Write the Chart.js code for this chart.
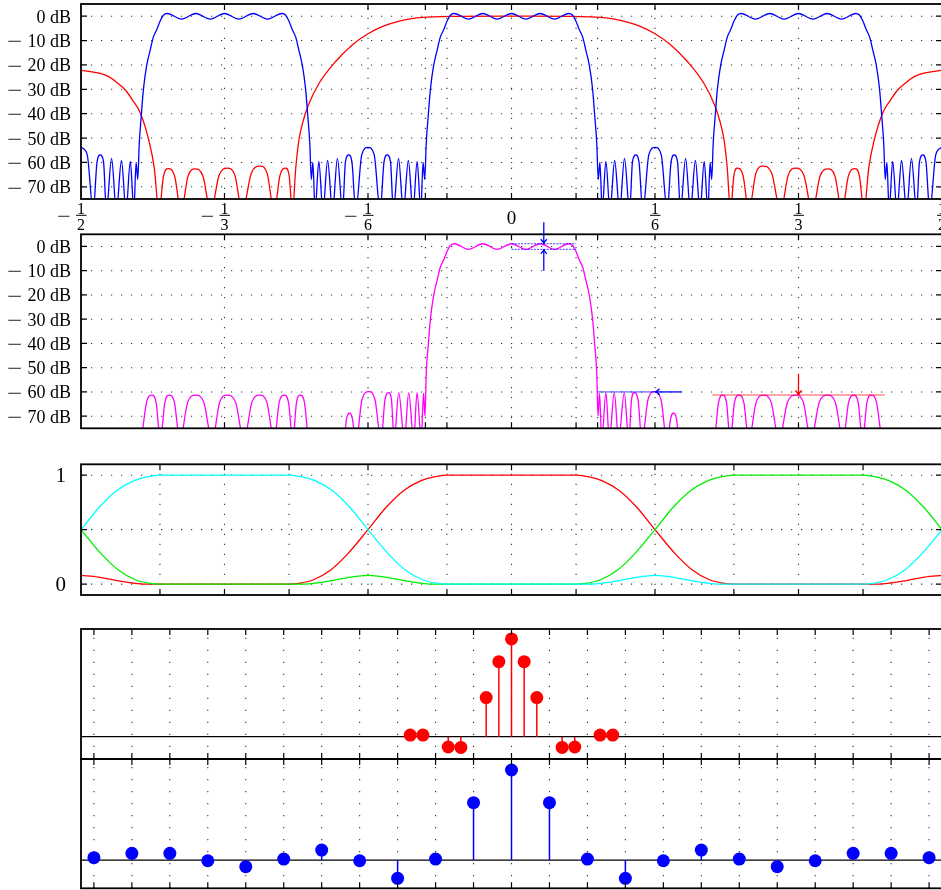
<!DOCTYPE html>
<html><head><meta charset="utf-8">
<script src="https://cdn.jsdelivr.net/npm/chart.js@4.4.1/dist/chart.umd.min.js"></script>
<style>
html,body{margin:0;padding:0;background:#fff;overflow:hidden;}
body{width:941px;height:890px;position:relative;}
canvas{position:absolute;left:0;}
</style></head><body>
<canvas id="c1" width="942" height="236" style="top:0px"></canvas>
<canvas id="c2" width="942" height="222" style="top:214px"></canvas>
<canvas id="c3" width="942" height="150" style="top:455px"></canvas>
<canvas id="c4" width="942" height="145" style="top:620px"></canvas>
<canvas id="c5" width="942" height="140" style="top:752px"></canvas>
<script>
// ---------------- data ----------------
const freqGridTicks = [-1/3, -1/6, -0.1, -0.075, 0, 0.075, 0.1, 1/6, 1/3];
const fracTickValues = [-1/2, -1/3, -1/6, 0, 1/6, 1/3, 1/2];
const fracTickLabels = ['\u22121/2', '\u22121/3', '\u22121/6', '0', '1/6', '1/3', '1/2'];
const dbTicks = [-70, -60, -50, -40, -30, -20, -10, 0];
const dbTickLabels = ['\u221270 dB', '\u221260 dB', '\u221250 dB', '\u221240 dB', '\u221230 dB', '\u221220 dB', '\u221210 dB', '0 dB'];
const bankTicks = [-0.4083, -1/3, -0.2583, -1/6, -0.075, 0, 0.075, 1/6, 0.2583, 1/3, 0.4083];
const gainTicks = [0, 0.5, 1];
const gainTickLabels = ['0', '', '1'];
const tapTicks = [-11,-10,-9,-8,-7,-6,-5,-4,-3,-2,-1,0,1,2,3,4,5,6,7,8,9,10,11];

// interpolated (zero-stuffed) filter response, dB
const blueResponseDb = [
[-0.5,-53.8],[-0.4928,-56.8],[-0.4858,-80],[-0.4814,-59.9],[-0.4777,-56.9],[-0.4738,-59.9],[-0.4705,-80],[-0.4645,-58.3],[-0.4589,-80],[-0.4530,-59.2],[-0.4477,-80],[-0.4427,-59.6],[-0.4386,-80],[-0.4360,-60],[-0.4341,-67],
[-0.4323,-52],[-0.4298,-40],[-0.4275,-30],[-0.4236,-20],[-0.4197,-14],[-0.4159,-8.5],[-0.4120,-5.5],[-0.4081,-2],[-0.4043,0.4],[-0.3998,1.1],[-0.3833,-1.2],[-0.3667,1.1],[-0.3500,-1.2],[-0.3333,1.1],[-0.3167,-1.2],[-0.3000,1.1],[-0.2833,-1.2],[-0.2668,1.1],[-0.2623,0.4],[-0.2585,-2],[-0.2546,-5.5],[-0.2507,-8.5],[-0.2469,-14],[-0.2430,-20],[-0.2391,-30],[-0.2368,-40],[-0.2343,-52],[-0.2325,-67],
[-0.2307,-60],[-0.2281,-80],[-0.2238,-59.6],[-0.2190,-80],[-0.2136,-59.2],[-0.2078,-80],[-0.2022,-58.3],[-0.1962,-80],[-0.1929,-59.9],[-0.1890,-56.9],[-0.1853,-59.9],[-0.1809,-80],[-0.1739,-56.8],[-0.1667,-53.8],[-0.1595,-56.8],[-0.1525,-80],[-0.1481,-59.9],[-0.1444,-56.9],[-0.1405,-59.9],[-0.1372,-80],[-0.1312,-58.3],[-0.1256,-80],[-0.1198,-59.2],[-0.1144,-80],[-0.1096,-59.6],[-0.1053,-80],[-0.1027,-60],[-0.1008,-67],
[-0.0990,-52],[-0.0965,-40],[-0.0942,-30],[-0.0903,-20],[-0.0864,-14],[-0.0826,-8.5],[-0.0787,-5.5],[-0.0748,-2],[-0.0710,0.4],[-0.0665,1.1],[-0.0500,-1.2],[-0.0333,1.1],[-0.0167,-1.2],[0,1.1],[0.0167,-1.2],[0.0333,1.1],[0.0500,-1.2],[0.0665,1.1],[0.0710,0.4],[0.0748,-2],[0.0787,-5.5],[0.0826,-8.5],[0.0864,-14],[0.0903,-20],[0.0942,-30],[0.0965,-40],[0.0990,-52],[0.1008,-67],
[0.1027,-60],[0.1053,-80],[0.1096,-59.6],[0.1144,-80],[0.1198,-59.2],[0.1256,-80],[0.1312,-58.3],[0.1372,-80],[0.1405,-59.9],[0.1444,-56.9],[0.1481,-59.9],[0.1525,-80],[0.1595,-56.8],[0.1667,-53.8],[0.1739,-56.8],[0.1809,-80],[0.1853,-59.9],[0.1890,-56.9],[0.1929,-59.9],[0.1962,-80],[0.2022,-58.3],[0.2078,-80],[0.2136,-59.2],[0.2190,-80],[0.2238,-59.6],[0.2281,-80],[0.2307,-60],[0.2325,-67],
[0.2343,-52],[0.2368,-40],[0.2391,-30],[0.2430,-20],[0.2469,-14],[0.2507,-8.5],[0.2546,-5.5],[0.2585,-2],[0.2623,0.4],[0.2668,1.1],[0.2833,-1.2],[0.3000,1.1],[0.3167,-1.2],[0.3333,1.1],[0.3500,-1.2],[0.3667,1.1],[0.3833,-1.2],[0.3998,1.1],[0.4043,0.4],[0.4081,-2],[0.4120,-5.5],[0.4159,-8.5],[0.4197,-14],[0.4236,-20],[0.4275,-30],[0.4298,-40],[0.4323,-52],[0.4341,-67],
[0.4360,-60],[0.4386,-80],[0.4427,-59.6],[0.4477,-80],[0.4530,-59.2],[0.4589,-80],[0.4645,-58.3],[0.4705,-80],[0.4738,-59.9],[0.4777,-56.9],[0.4814,-59.9],[0.4858,-80],[0.4928,-56.8],[0.5,-53.8]
];

// image-rejection filter response, dB
const redResponseDb = [
[-0.5,-22.2],[-0.48,-23.3],[-0.4678,-24.8],[-0.458,-27.3],[-0.4485,-30.3],[-0.44,-34.5],[-0.431,-39.8],[-0.4213,-50.8],[-0.4150,-62],[-0.4094,-80],[-0.4041,-65.5],[-0.3988,-62.5],[-0.3913,-65.5],[-0.3838,-80],[-0.3757,-65.6],[-0.3675,-62.6],[-0.3584,-65.6],[-0.3493,-80],[-0.3396,-65.3],[-0.3299,-62.3],[-0.3213,-65.3],[-0.3126,-80],[-0.3023,-64.5],[-0.2919,-61.5],[-0.2838,-64.5],[-0.2756,-80],[-0.2689,-65.3],[-0.2622,-62.3],[-0.2583,-65.3],[-0.2544,-80],[-0.2505,-62],[-0.2469,-50.8],[-0.242,-43],[-0.236,-36.5],[-0.2236,-27.6],[-0.204,-18.5],[-0.185,-11.8],[-0.1667,-7.2],[-0.148,-4.0],[-0.128,-1.8],[-0.11,-0.7],[-0.09,-0.25],[-0.07,-0.08],
[0,0],
[0.07,-0.08],[0.09,-0.25],[0.11,-0.7],[0.128,-1.8],[0.148,-4.0],[0.1667,-7.2],[0.185,-11.8],[0.204,-18.5],[0.2236,-27.6],[0.236,-36.5],[0.242,-43],[0.2469,-50.8],[0.2505,-62],[0.2544,-80],[0.2583,-65.3],[0.2622,-62.3],[0.2689,-65.3],[0.2756,-80],[0.2838,-64.5],[0.2919,-61.5],[0.3023,-64.5],[0.3126,-80],[0.3213,-65.3],[0.3299,-62.3],[0.3396,-65.3],[0.3493,-80],[0.3584,-65.6],[0.3675,-62.6],[0.3757,-65.6],[0.3838,-80],[0.3913,-65.5],[0.3988,-62.5],[0.4041,-65.5],[0.4094,-80],[0.4150,-62],[0.4213,-50.8],[0.431,-39.8],[0.44,-34.5],[0.4485,-30.3],[0.458,-27.3],[0.4678,-24.8],[0.48,-23.3],[0.5,-22.2]
];

// cascade response, dB
const cascadeResponseDb = [
[-0.5,-120],[-0.44,-100],[-0.4300,-80],[-0.4239,-64.3],[-0.4178,-61.3],[-0.4128,-64.3],[-0.4078,-80],[-0.4026,-64.3],[-0.3975,-61.3],[-0.3915,-64.3],[-0.3852,-80],[-0.3761,-64.3],[-0.3670,-61.3],[-0.3574,-64.3],[-0.3477,-80],[-0.3390,-64.3],[-0.3303,-61.3],[-0.3205,-64.3],[-0.3107,-80],[-0.3016,-64.3],[-0.2926,-61.3],[-0.2841,-64.3],[-0.2756,-80],[-0.2698,-64.3],[-0.2640,-61.3],[-0.2590,-64.3],[-0.2540,-80],[-0.2497,-64.3],[-0.2453,-61.3],[-0.2405,-64.3],[-0.2357,-80],[-0.2200,-90],[-0.2066,-85],[-0.2016,-75.5],[-0.1957,-85],[-0.1918,-71.5],[-0.1880,-68.7],[-0.1845,-71.5],[-0.1810,-82],[-0.1735,-62.9],[-0.1659,-59.9],[-0.1587,-62.9],[-0.1514,-80],[-0.1470,-63.3],[-0.1426,-60.3],[-0.1394,-63.3],[-0.1362,-80],[-0.1310,-60.3],[-0.1244,-80],[-0.1194,-60.3],[-0.1136,-80],[-0.1097,-60.3],[-0.1048,-80],[-0.1022,-60.5],[-0.1005,-70],
[-0.0990,-52],[-0.0965,-40],[-0.0942,-30],[-0.0903,-20],[-0.0864,-14],[-0.0826,-8.5],[-0.0787,-5.5],[-0.0748,-2],[-0.0710,0.4],[-0.0665,1.1],[-0.0500,-1.2],[-0.0333,1.1],[-0.0167,-1.2],[0,1.1],[0.0167,-1.2],[0.0333,1.1],[0.0500,-1.2],[0.0665,1.1],[0.0710,0.4],[0.0748,-2],[0.0787,-5.5],[0.0826,-8.5],[0.0864,-14],[0.0903,-20],[0.0942,-30],[0.0965,-40],[0.0990,-52],
[0.1005,-70],[0.1022,-60.5],[0.1048,-80],[0.1097,-60.3],[0.1136,-80],[0.1194,-60.3],[0.1244,-80],[0.1310,-60.3],[0.1362,-80],[0.1394,-63.3],[0.1426,-60.3],[0.1470,-63.3],[0.1514,-80],[0.1587,-62.9],[0.1659,-59.9],[0.1735,-62.9],[0.1810,-82],[0.1845,-71.5],[0.1880,-68.7],[0.1918,-71.5],[0.1957,-85],[0.2016,-75.5],[0.2066,-85],[0.2200,-90],[0.2357,-80],[0.2405,-64.3],[0.2453,-61.3],[0.2497,-64.3],[0.2540,-80],[0.2590,-64.3],[0.2640,-61.3],[0.2698,-64.3],[0.2756,-80],[0.2841,-64.3],[0.2926,-61.3],[0.3016,-64.3],[0.3107,-80],[0.3205,-64.3],[0.3303,-61.3],[0.3390,-64.3],[0.3477,-80],[0.3574,-64.3],[0.3670,-61.3],[0.3761,-64.3],[0.3852,-80],[0.3915,-64.3],[0.3975,-61.3],[0.4026,-64.3],[0.4078,-80],[0.4128,-64.3],[0.4178,-61.3],[0.4239,-64.3],[0.4300,-80],[0.44,-100],[0.5,-120]
];

// filter-bank channel gains (linear)
const cyanGain = [
[-0.5,0.5],[-0.4783,0.71],[-0.4583,0.86],[-0.4383,0.95],[-0.4233,0.985],[-0.4083,1],[-0.2583,1],[-0.2433,0.985],[-0.2283,0.95],[-0.2083,0.86],[-0.1883,0.71],[-0.1667,0.5],[-0.1433,0.28],[-0.1233,0.13],[-0.1033,0.04],[-0.0883,0.01],[-0.0733,0],[0.0917,0],[0.1067,0.01],[0.1267,0.035],[0.1467,0.065],[0.1667,0.08],[0.1867,0.065],[0.2067,0.035],[0.2267,0.01],[0.2417,0],[0.4067,0],[0.4217,0.01],[0.4367,0.04],[0.4567,0.13],[0.4767,0.28],[0.5,0.5]
];
const redGain = [
[-0.5,0.08],[-0.48,0.065],[-0.46,0.035],[-0.44,0.01],[-0.425,0],[-0.26,0],[-0.245,0.01],[-0.23,0.04],[-0.21,0.13],[-0.19,0.28],[-0.1667,0.5],[-0.145,0.71],[-0.125,0.86],[-0.105,0.95],[-0.09,0.985],[-0.075,1],[0.075,1],[0.09,0.985],[0.105,0.95],[0.125,0.86],[0.145,0.71],[0.1667,0.5],[0.19,0.28],[0.21,0.13],[0.23,0.04],[0.245,0.01],[0.26,0],[0.425,0],[0.44,0.01],[0.46,0.035],[0.48,0.065],[0.5,0.08]
];
const greenGain = [
[-0.5,0.5],[-0.4767,0.28],[-0.4567,0.13],[-0.4367,0.04],[-0.4217,0.01],[-0.4067,0],[-0.2417,0],[-0.2267,0.01],[-0.2067,0.035],[-0.1867,0.065],[-0.1667,0.08],[-0.1467,0.065],[-0.1267,0.035],[-0.1067,0.01],[-0.0917,0],[0.0733,0],[0.0883,0.01],[0.1033,0.04],[0.1233,0.13],[0.1433,0.28],[0.1667,0.5],[0.1883,0.71],[0.2083,0.86],[0.2283,0.95],[0.2433,0.985],[0.2583,1],[0.4083,1],[0.4233,0.985],[0.4383,0.95],[0.4583,0.86],[0.4783,0.71],[0.5,0.5]
];

// impulse responses
const redTapIndex = [-8,-7,-5,-4,-2,-1,0,1,2,4,5,7,8];
const redTapValues = [0.017,0.017,-0.105,-0.11,0.40,0.768,1.0,0.768,0.40,-0.11,-0.105,0.017,0.017];
const blueTapIndex = [-11,-10,-9,-8,-7,-6,-5,-4,-3,-2,-1,0,1,2,3,4,5,6,7,8,9,10,11];
const blueTapValues = [0.026,0.074,0.074,-0.008,-0.074,0.011,0.111,-0.008,-0.203,0.011,0.637,1.0,0.637,0.011,-0.203,-0.008,0.111,0.011,-0.074,-0.008,0.074,0.074,0.026];

// annotation levels (cascade panel)
const rippleLevelsDb = [1.1, -1.2];
const passEdge = 0.075, stopEdge = 0.1;
const stopLevelNearDb = -60, stopLevelFarDb = -61.3;

// ---------------- helpers ----------------
const SERIF = '"Liberation Serif", "DejaVu Serif", serif';
const pts = arr => arr.map(p => ({x: p[0], y: p[1]}));

// minus sign drawn as text, widened horizontally to the reference's math minus
function drawMinus(ctx, rightX, cy, width, size) {
  ctx.save();
  ctx.font = size + 'px ' + SERIF; ctx.textAlign = 'left'; ctx.textBaseline = 'alphabetic';
  const m = ctx.measureText('\u2212');
  const gw = m.actualBoundingBoxLeft + m.actualBoundingBoxRight;
  const barMid = (m.actualBoundingBoxAscent - m.actualBoundingBoxDescent) / 2;
  const sx = width / gw;
  const left = rightX - width;
  ctx.translate(left + sx * m.actualBoundingBoxLeft, cy + barMid);
  ctx.scale(sx, 1);
  ctx.fillText('\u2212', 0, 0);
  ctx.restore();
}
function drawNumLabel(ctx, text, rightX, cy, size) {
  ctx.save();
  ctx.font = size + 'px ' + SERIF; ctx.fillStyle = '#000';
  ctx.textAlign = 'right'; ctx.textBaseline = 'alphabetic';
  const neg = text.startsWith('\u2212'); const rest = neg ? text.slice(1) : text;
  const d = ctx.measureText('0');
  const base = cy + d.actualBoundingBoxAscent / 2;
  ctx.fillText(rest, rightX, base);
  if (neg) {
    const w = ctx.measureText(rest).width;
    drawMinus(ctx, rightX - w - 5.5, cy + 0.8, 15, size);
  }
  ctx.restore();
}

function arrow(ctx, x1, y1, x2, y2, color) {
  ctx.save();
  ctx.strokeStyle = color; ctx.lineWidth = 1.3; ctx.setLineDash([]);
  ctx.beginPath(); ctx.moveTo(x1, y1); ctx.lineTo(x2, y2); ctx.stroke();
  const ang = Math.atan2(y2 - y1, x2 - x1), L = 5.5, s = 0.6;
  ctx.beginPath();
  ctx.moveTo(x2 - L * Math.cos(ang - s), y2 - L * Math.sin(ang - s));
  ctx.quadraticCurveTo(x2 - 1.5 * Math.cos(ang), y2 - 1.5 * Math.sin(ang), x2, y2);
  ctx.quadraticCurveTo(x2 - 1.5 * Math.cos(ang), y2 - 1.5 * Math.sin(ang), x2 - L * Math.cos(ang + s), y2 - L * Math.sin(ang + s));
  ctx.stroke();
  ctx.restore();
}

const framePlugin = {
  id: 'frame',
  beforeDatasetsDraw(chart, args, o) {
    const {ctx, chartArea: a} = chart; const x = chart.scales.x, y = chart.scales.y;
    ctx.save();
    ctx.beginPath(); ctx.rect(a.left, a.top, a.right - a.left, a.bottom - a.top); ctx.clip();
    ctx.strokeStyle = '#333'; ctx.lineWidth = 1.1; ctx.setLineDash(o.dash || [1.2, 8.8]);
    for (const v of (o.xGrid || [])) { const p = x.getPixelForValue(v); ctx.beginPath(); ctx.moveTo(p, a.bottom); ctx.lineTo(p, a.top); ctx.stroke(); }
    for (const v of (o.yGrid || [])) { const p = y.getPixelForValue(v); ctx.beginPath(); ctx.moveTo(a.left, p); ctx.lineTo(a.right, p); ctx.stroke(); }
    ctx.setLineDash([]);
    if (o.zeroLine) { const p = y.getPixelForValue(0); ctx.strokeStyle = '#000'; ctx.lineWidth = 1.2; ctx.beginPath(); ctx.moveTo(a.left, p); ctx.lineTo(a.right, p); ctx.stroke(); }
    ctx.restore();
  },
  afterDatasetsDraw(chart, args, o) {
    const {ctx, chartArea: a} = chart; const x = chart.scales.x, y = chart.scales.y;
    ctx.save();
    ctx.strokeStyle = '#000'; ctx.lineWidth = 1.2; const tl = 6;
    for (const v of (o.xTicks || [])) { const p = x.getPixelForValue(v); ctx.beginPath(); ctx.moveTo(p, a.top); ctx.lineTo(p, a.top + tl); ctx.moveTo(p, a.bottom); ctx.lineTo(p, a.bottom - tl); ctx.stroke(); }
    for (const v of (o.yTicks || [])) { const p = y.getPixelForValue(v); ctx.beginPath(); ctx.moveTo(a.left, p); ctx.lineTo(a.left + tl, p); ctx.moveTo(a.right, p); ctx.lineTo(a.right - tl, p); ctx.stroke(); }
    ctx.lineWidth = 1.8; ctx.strokeRect(a.left, a.top, a.right - a.left, a.bottom - a.top);
    ctx.restore();
    if (o.yLabels) {
      (o.yTicks || []).forEach((v, i) => {
        const lab = o.yLabels[i]; if (!lab) return;
        drawNumLabel(ctx, lab, a.left - (o.labelGap || 10), y.getPixelForValue(v), o.labelSize || 18);
      });
    }
  }
};

const fracPlugin = {
  id: 'fracLabels',
  afterDraw(chart, args, o) {
    if (!o.values) return;
    const {ctx, chartArea: a} = chart; const x = chart.scales.x;
    ctx.save(); ctx.fillStyle = '#000'; ctx.strokeStyle = '#000';
    o.values.forEach((v, i) => {
      const px = x.getPixelForValue(v);
      let lab = o.labels[i];
      const neg = lab.startsWith('\u2212'); if (neg) lab = lab.slice(1);
      ctx.textAlign = 'center'; ctx.textBaseline = 'alphabetic';
      if (lab.includes('/')) {
        const [n, d] = lab.split('/');
        ctx.font = '16px ' + SERIF;
        ctx.fillText(n, px, a.bottom + 14.5);
        ctx.fillText(d, px, a.bottom + 30.5);
        ctx.lineWidth = 1; ctx.beginPath(); ctx.moveTo(px - 5, a.bottom + 16.3); ctx.lineTo(px + 5.5, a.bottom + 16.3); ctx.stroke();
        if (neg) drawMinus(ctx, px - 10.5, a.bottom + 17.3, 13.4, 18);
      } else {
        ctx.font = '19px ' + SERIF;
        ctx.fillText(lab, px, a.bottom + 25);
      }
    });
    ctx.restore();
  }
};

const annotPlugin = {
  id: 'cascadeNotes',
  afterDatasetsDraw(chart, args, o) {
    if (!o.on) return;
    const {ctx} = chart; const x = chart.scales.x, y = chart.scales.y;
    ctx.save();
    ctx.strokeStyle = 'rgba(0,0,255,0.85)'; ctx.lineWidth = 0.9; ctx.setLineDash([2, 1.2]);
    for (const lv of rippleLevelsDb) { const py = y.getPixelForValue(lv); ctx.beginPath(); ctx.moveTo(x.getPixelForValue(0), py); ctx.lineTo(x.getPixelForValue(passEdge), py); ctx.stroke(); }
    ctx.setLineDash([]); ctx.strokeStyle = 'rgba(0,0,255,0.75)'; ctx.lineWidth = 1;
    const py = y.getPixelForValue(stopLevelNearDb);
    ctx.beginPath(); ctx.moveTo(x.getPixelForValue(stopEdge), py); ctx.lineTo(x.getPixelForValue(1/6), py); ctx.stroke();
    ctx.strokeStyle = 'rgba(255,0,0,0.35)'; ctx.lineWidth = 2;
    const pf = y.getPixelForValue(stopLevelFarDb);
    ctx.beginPath(); ctx.moveTo(x.getPixelForValue(1/3 - stopEdge), pf); ctx.lineTo(x.getPixelForValue(1/3 + stopEdge), pf); ctx.stroke();
    ctx.restore();
    const xm = x.getPixelForValue(passEdge / 2);
    arrow(ctx, xm, y.getPixelForValue(10), xm, y.getPixelForValue(rippleLevelsDb[0]), '#0000ff');
    arrow(ctx, xm, y.getPixelForValue(-10), xm, y.getPixelForValue(rippleLevelsDb[1]), '#0000ff');
    arrow(ctx, x.getPixelForValue(0.1977), py, x.getPixelForValue(1/6), py, '#0000ff');
    arrow(ctx, x.getPixelForValue(1/3), y.getPixelForValue(-52.5), x.getPixelForValue(1/3), pf, '#ff0000');
  }
};

Chart.register(framePlugin, fracPlugin, annotPlugin);

function yScale(min, max) {
  return {
    type: 'linear', min, max, position: 'left',
    grid: {display: false, drawTicks: false}, border: {display: false},
    afterFit(s) { s.width = 81; s.paddingTop = 0; s.paddingBottom = 0; },
    ticks: {display: false}
  };
}
function baseOpts(xmin, xmax, ys, pad, plugins) {
  return {
    responsive: false, animation: false, events: [],
    layout: {padding: pad, autoPadding: false},
    plugins: Object.assign({legend: {display: false}, tooltip: {enabled: false}}, plugins),
    scales: {x: {type: 'linear', min: xmin, max: xmax, display: false}, y: ys}
  };
}
function curve(data, color, w) {
  return {type: 'line', data: pts(data), borderColor: color, borderWidth: w || 1.3, pointRadius: 0,
    cubicInterpolationMode: 'monotone', capBezierPoints: false, fill: false};
}

// Panel 1
new Chart(document.getElementById('c1'), {
  type: 'line',
  data: {datasets: [curve(blueResponseDb, '#0000ff'), curve(redResponseDb, '#ff0000')]},
  options: baseOpts(-0.5, 0.5, yScale(-75, 5), {left: 0, right: 0, top: 4, bottom: 37}, {
    frame: {xGrid: freqGridTicks, yGrid: dbTicks, xTicks: freqGridTicks, yTicks: dbTicks, yLabels: dbTickLabels},
    fracLabels: {values: fracTickValues, labels: fracTickLabels}
  })
});

// Panel 2
new Chart(document.getElementById('c2'), {
  type: 'line',
  data: {datasets: [curve(cascadeResponseDb, '#ff00ff')]},
  options: baseOpts(-0.5, 0.5, yScale(-75, 5), {left: 0, right: 0, top: 20.3, bottom: 7.7}, {
    frame: {xGrid: freqGridTicks, yGrid: dbTicks, xTicks: freqGridTicks, yTicks: dbTicks, yLabels: dbTickLabels},
    cascadeNotes: {on: true}
  })
});

// Panel 3
new Chart(document.getElementById('c3'), {
  type: 'line',
  data: {datasets: [curve(cyanGain, '#00ffff'), curve(greenGain, '#00ee00'), curve(redGain, '#ff0000')]},
  options: baseOpts(-0.5, 0.5, yScale(-0.1, 1.1), {left: 0, right: 0, top: 9.3, bottom: 10}, {
    frame: {xGrid: bankTicks, yGrid: gainTicks, xTicks: bankTicks, yTicks: gainTicks, yLabels: gainTickLabels, labelSize: 21, labelGap: 15}
  })
});

// Panels 4 & 5
function stemSets(xs, vs, color) {
  const stems = [];
  xs.forEach((xv, i) => { stems.push({x: xv, y: 0}, {x: xv, y: vs[i]}, {x: xv, y: null}); });
  return [
    {type: 'line', data: stems, borderColor: color, borderWidth: 1.5, pointRadius: 0, spanGaps: false},
    {type: 'scatter', data: xs.map((xv, i) => ({x: xv, y: vs[i]})), backgroundColor: color, borderWidth: 0, pointRadius: 6.5}
  ];
}
new Chart(document.getElementById('c4'), {
  type: 'scatter',
  data: {datasets: stemSets(redTapIndex.map(n => n / 3), redTapValues, '#ff0000')},
  options: baseOpts(-11.34, 11.34, yScale(-0.228, 1.102), {left: 0, right: 0, top: 9, bottom: 6}, {
    frame: {xGrid: tapTicks, xTicks: tapTicks, zeroLine: true, dash: [1.2, 10.8]}
  })
});
new Chart(document.getElementById('c5'), {
  type: 'scatter',
  data: {datasets: stemSets(blueTapIndex, blueTapValues, '#0000ff')},
  options: baseOpts(-11.34, 11.34, yScale(-0.314, 1.122), {left: 0, right: 0, top: 7, bottom: 3.7}, {
    frame: {xGrid: tapTicks, xTicks: tapTicks, zeroLine: true, dash: [1.2, 10.8]}
  })
});
</script></body></html>
